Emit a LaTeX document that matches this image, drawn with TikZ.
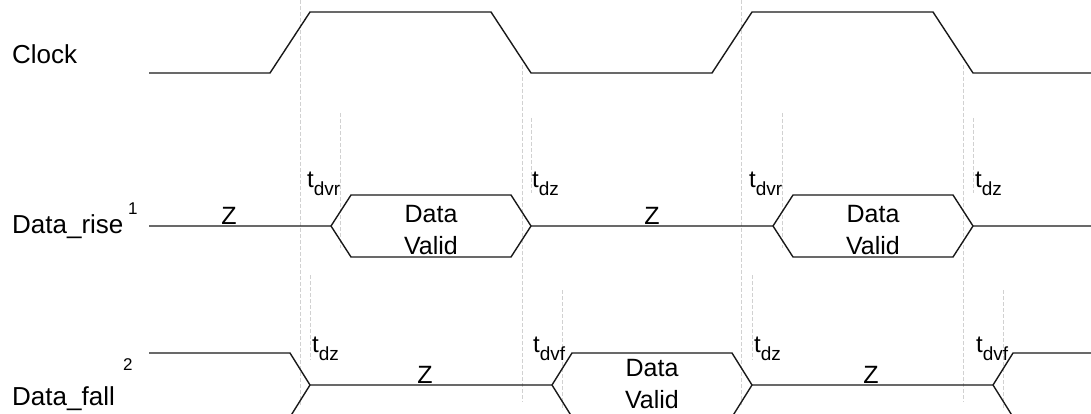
\documentclass[tikz,border=0pt]{standalone}
\usepackage{fontspec}
\setmainfont{Liberation Sans}
\usetikzlibrary{positioning}
\tikzstyle{wave} = [line width=1.4pt, draw=black!90, line join=miter]
\tikzstyle{guide} = [draw=black!18, line width=0.8pt, dash pattern=on 4pt off 2pt]
\tikzstyle{signame} = [anchor=base west, inner sep=0pt, font=\fontsize{26}{26}\selectfont]
\tikzstyle{note} = [anchor=base west, inner sep=0pt, font=\fontsize{17}{17}\selectfont]
\tikzstyle{zlabel} = [anchor=base, inner sep=0pt, font=\fontsize{25}{25}\selectfont]
\tikzstyle{valid} = [align=center, inner sep=0pt, font=\fontsize{25}{32}\selectfont]
\tikzstyle{timing} = [anchor=base west, inner sep=0pt]
\newcommand{\tmark}[1]% #1 = subscript
{{\fontsize{24}{24}\selectfont t}\raisebox{-8pt}{\fontsize{19}{19}\selectfont #1}}

\begin{document}
\begin{tikzpicture}[x=1pt,y=-1pt]
		\clip (0,0) rectangle (1091,414);
		
		\draw [guide] (300,0) -- (300,405);
		\draw [guide] (741,0) -- (741,405);
		\draw [guide] (522,65) -- (522,402);
		\draw [guide] (963,65) -- (963,402);
		\draw [guide] (340,113) -- (340,248);
		\draw [guide] (782,113) -- (782,248);
		\draw [guide] (531,118) -- (531,193);
		\draw [guide] (973,118) -- (973,193);
		\draw [guide] (310,275) -- (310,360);
		\draw [guide] (752,275) -- (752,360);
		\draw [guide] (562,290) -- (562,410);
		\draw [guide] (1003,290) -- (1003,410);
		
		\node (clock) [signame] at (12,64) {Clock};
		\node (rise) [signame] at (12,233) {Data\_rise};
		\node (rise-note) [note] at (128,214) {1};
		\node (fall) [signame] at (12,405) {Data\_fall};
		\node (fall-note) [note] at (123,370) {2};
		
		\draw [wave] (149,73) -- (270,73) -- (310,12) -- (491,12) -- (531,73) -- (712,73) -- (752,12) -- (933,12) -- (973,73) -- (1091,73);
		
		\draw [wave] (149,226) -- (331,226) -- (351,195) -- (511,195) -- (531,226) -- (773,226) -- (793,195) -- (953,195) -- (973,226) -- (1091,226);
		\draw [wave] (331,226) -- (351,257) -- (511,257) -- (531,226);
		\draw [wave] (773,226) -- (793,257) -- (953,257) -- (973,226);
		
		\draw [wave] (149,353) -- (290,353) -- (310,385) -- (552,385) -- (572,353) -- (732,353) -- (752,385) -- (993,385) -- (1013,353) -- (1091,353);
		\draw [wave] (149,417) -- (290,417) -- (310,385);
		\draw [wave] (552,385) -- (572,417) -- (732,417) -- (752,385);
		\draw [wave] (993,385) -- (1013,417) -- (1091,417);
		
		\node (rise-z1) [zlabel] at (229,224) {Z};
		\node (rise-z2) [zlabel] at (652,224) {Z};
		\node (fall-z1) [zlabel] at (425,383) {Z};
		\node (fall-z2) [zlabel] at (871,383) {Z};
		
		\node (rise-valid1) [valid] at (431,230) {Data\\Valid};
		\node (rise-valid2) [valid] at (873,230) {Data\\Valid};
		\node (fall-valid) [valid] at (652,384) {Data\\Valid};
		
		\node (rise-dvr1) [timing] at (307,187) {\tmark{dvr}};
		\node (rise-dz1) [timing] at (532,187) {\tmark{dz}};
		\node (rise-dvr2) [timing] at (749,187) {\tmark{dvr}};
		\node (rise-dz2) [timing] at (975,187) {\tmark{dz}};
		\node (fall-dz1) [timing] at (312,352) {\tmark{dz}};
		\node (fall-dvf1) [timing] at (533,352) {\tmark{dvf}};
		\node (fall-dz2) [timing] at (754,352) {\tmark{dz}};
		\node (fall-dvf2) [timing] at (976,352) {\tmark{dvf}};
		
	\end{tikzpicture}
\end{document}
